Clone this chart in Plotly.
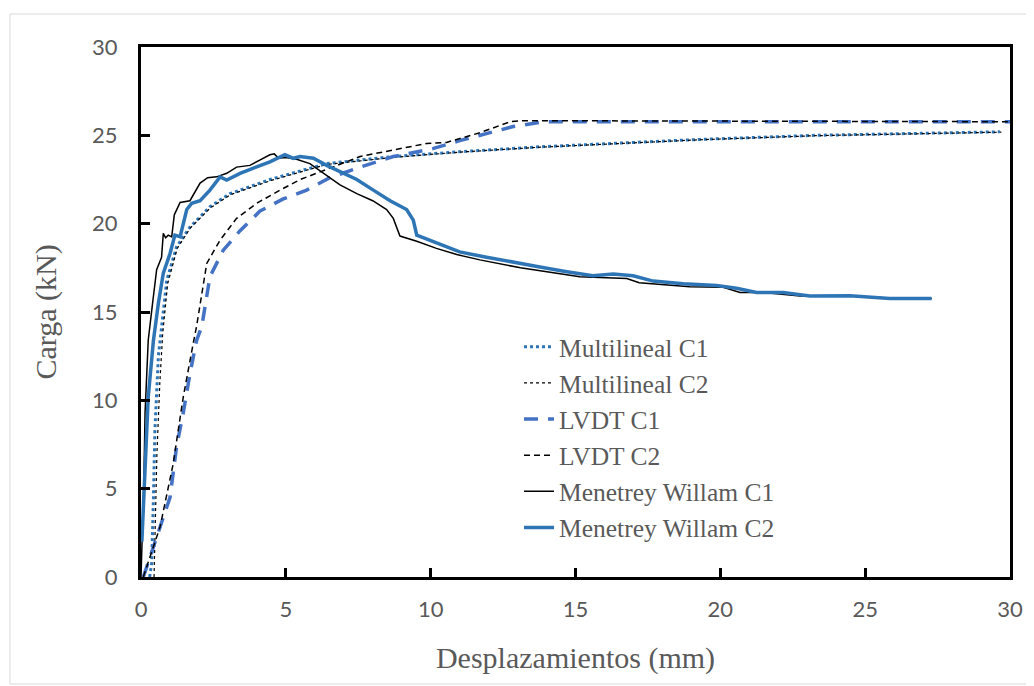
import plotly.graph_objects as go

# Multilineal C1 / C2 (numerical, multilinear model)
ml1_x = [0.3, 0.37, 0.43, 0.48, 0.6, 0.71, 0.89, 1.23, 1.69, 2.38, 3.07, 3.76, 4.45, 6.41, 8.71, 11.0, 13.77, 17.57, 19.3, 23.3, 29.65]
ml1_y = [0.0, 0.8, 4.5, 8.3, 12.5, 14.0, 16.8, 18.7, 19.8, 20.96, 21.7, 22.1, 22.5, 23.4, 23.8, 24.07, 24.35, 24.64, 24.77, 25.0, 25.2]
ml2_x = [0.45, 0.5, 0.55, 0.65, 0.75, 0.92, 1.25, 1.7, 2.4, 3.1, 3.8, 4.5, 6.4, 8.7, 11.0, 13.8, 17.6, 19.3, 23.3, 29.7]
ml2_y = [0.0, 3.0, 7.0, 11.0, 13.8, 16.6, 18.6, 19.75, 20.9, 21.65, 22.05, 22.45, 23.35, 23.75, 24.05, 24.33, 24.62, 24.75, 24.98, 25.18]

# LVDT C1 / C2 (experimental)
lv1_x = [0.08, 0.71, 1.0, 1.23, 1.46, 1.69, 1.92, 2.1, 2.38, 2.84, 3.42, 4.1, 4.91, 5.72, 6.52, 7.56, 8.71, 10.1, 11.0, 12.85, 13.9, 30.0]
lv1_y = [0.0, 3.0, 4.5, 7.4, 9.3, 11.5, 13.4, 14.2, 17.0, 18.5, 19.6, 20.7, 21.4, 21.9, 22.6, 23.2, 23.8, 24.26, 24.7, 25.5, 25.77, 25.77]
lv2_x = [0.08, 0.66, 1.11, 1.46, 1.8, 1.92, 2.27, 2.73, 3.3, 3.99, 4.8, 5.5, 7.56, 9.86, 10.55, 11.7, 12.75, 13.1, 30.0]
lv2_y = [0.0, 2.85, 6.4, 10.2, 13.2, 14.2, 17.75, 19.07, 20.3, 21.15, 21.9, 22.5, 23.8, 24.54, 24.6, 25.15, 25.77, 25.83, 25.77]

# Menetrey Willam C1 / C2
mw1_x = [0.0, 0.1, 0.14, 0.2, 0.25, 0.4, 0.54, 0.71, 0.77, 0.85, 0.94, 1.06, 1.15, 1.35, 1.69, 2.04, 2.3, 2.61, 2.96, 3.3,
         3.76, 4.1, 4.45, 4.6, 4.75, 5.0, 5.37, 5.83, 6.29, 6.87, 7.45, 8.0, 8.48, 8.71, 8.94, 9.52, 10.2, 10.9, 11.7,
         13.1, 15.15, 16.77, 17.2, 18.95, 20.1, 20.68, 21.5, 22.75, 24.5, 25.9, 27.3]
mw1_y = [0.0, 5.5, 9.3, 11.7, 13.4, 15.5, 17.4, 18.1, 19.45, 19.2, 19.35, 19.25, 20.5, 21.2, 21.3, 22.3, 22.6, 22.65, 22.85, 23.2,
         23.3, 23.6, 23.9, 23.95, 23.7, 23.75, 23.65, 23.4, 22.85, 22.2, 21.7, 21.3, 20.8, 20.3, 19.3, 19.0, 18.6, 18.25, 17.95,
         17.5, 17.0, 16.9, 16.66, 16.43, 16.4, 16.1, 16.1, 15.9, 15.92, 15.78, 15.77]
mw2_x = [0.03, 0.14, 0.25, 0.43, 0.6, 0.77, 1.0, 1.17, 1.35, 1.58, 1.75, 2.04, 2.38, 2.73, 2.96, 3.42, 3.99, 4.45, 4.97,
         5.26, 5.49, 5.95, 6.41, 6.87, 7.45, 8.02, 8.6, 9.17, 9.4, 9.52, 10.09, 11.0, 11.93, 12.85, 13.77, 14.7, 15.6,
         16.3, 16.99, 17.68, 18.72, 19.87, 20.56, 21.25, 22.17, 23.09, 24.47, 25.85, 27.29]
mw2_y = [2.0, 6.4, 10.2, 13.4, 15.5, 17.2, 18.3, 19.35, 19.26, 20.8, 21.15, 21.3, 21.9, 22.65, 22.47, 22.85, 23.2, 23.5, 23.9,
         23.7, 23.8, 23.7, 23.3, 22.95, 22.5, 21.9, 21.3, 20.8, 20.2, 19.35, 19.0, 18.4, 18.1, 17.85, 17.55, 17.28, 17.05,
         17.15, 17.05, 16.75, 16.6, 16.5, 16.34, 16.1, 16.1, 15.9, 15.92, 15.77, 15.77]

BLUE = "#2E75B6"
BLUE2 = "#4472C4"
GRAY = "#595959"

fig = go.Figure()
fig.add_trace(go.Scatter(x=ml1_x, y=ml1_y, mode="lines", name="Multilineal C1",
                         line=dict(color=BLUE, width=3, dash="dot")))
fig.add_trace(go.Scatter(x=ml2_x, y=ml2_y, mode="lines", name="Multilineal C2",
                         line=dict(color="black", width=1.2, dash="dot")))
fig.add_trace(go.Scatter(x=lv1_x, y=lv1_y, mode="lines", name="LVDT C1",
                         line=dict(color=BLUE2, width=3.5, dash="14px,10px")))
fig.add_trace(go.Scatter(x=lv2_x, y=lv2_y, mode="lines", name="LVDT C2",
                         line=dict(color="black", width=1.5, dash="6px,4px")))
fig.add_trace(go.Scatter(x=mw1_x, y=mw1_y, mode="lines", name="Menetrey Willam C1",
                         line=dict(color="black", width=1.5)))
fig.add_trace(go.Scatter(x=mw2_x, y=mw2_y, mode="lines", name="Menetrey Willam C2",
                         line=dict(color=BLUE, width=3.5)))

axis_common = dict(
    showgrid=False, zeroline=False, automargin=False,
    showline=True, linecolor="black", linewidth=3, mirror=True,
    ticks="inside", ticklen=9, tickwidth=3, tickcolor="black",
    tickfont=dict(family="Lato", size=22, color=GRAY),
)

# the page body adds an 8 px margin, so the figure is 8 px smaller each way
fig.update_layout(
    width=1026, height=678,
    margin=dict(l=133, r=24, t=39, b=109),
    paper_bgcolor="white", plot_bgcolor="white",
    xaxis=dict(range=[0, 30], dtick=5, ticklabelstandoff=11,
               title=dict(text="Desplazamientos (mm)", standoff=26,
                          font=dict(family="Liberation Serif", size=30, color=GRAY)),
               **axis_common),
    yaxis=dict(range=[0, 30], dtick=5, ticklabelstandoff=16,
               title=dict(text="Carga (kN)", standoff=27,
                          font=dict(family="Liberation Serif", size=30, color=GRAY)),
               **axis_common),
    legend=dict(x=0.435, y=0.478, xanchor="left", yanchor="top",
                bgcolor="rgba(0,0,0,0)",
                font=dict(family="Liberation Serif", size=25.5, color=GRAY)),
    shapes=[dict(type="rect", xref="paper", yref="paper",
                 x0=-131 / 869, x1=(1022 - 133) / 869, y0=-107 / 530, y1=1 + 33 / 530,
                 line=dict(color="#d9d9d9", width=1), layer="below")],
)

fig.write_html("out.html")
